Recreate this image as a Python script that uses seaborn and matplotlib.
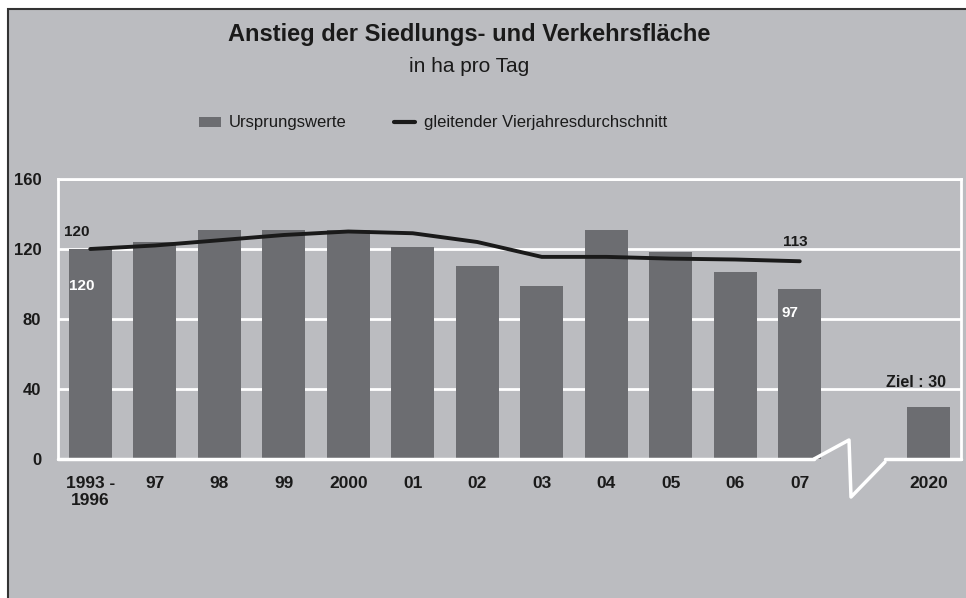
import numpy as np
import pandas as pd
import matplotlib
matplotlib.use("Agg")
import matplotlib.pyplot as plt
import seaborn as sns
from matplotlib.patches import Rectangle
from matplotlib.lines import Line2D
from matplotlib.patches import Patch

# ---- data ----
categories = ["1993 -\n1996", "97", "98", "99", "2000", "01", "02", "03",
              "04", "05", "06", "07", "2020"]
gap_label = " "
order = categories[:12] + [gap_label] + categories[12:]
values = [120, 124, 131, 131, 131, 121, 110, 99, 131, 118, 107, 97, 30]
moving_avg = [120, 122, 125, 128, 130, 129, 124, 115.5, 115.5, 114.5, 114, 113]
title = "Anstieg der Siedlungs- und Verkehrsfläche"
subtitle = "in ha pro Tag"
legend_labels = ["Ursprungswerte", "gleitender Vierjahresdurchschnitt"]
yticks = [0, 40, 80, 120, 160]

BG = "#bbbcc0"
BAR = "#6c6d71"
LINE = "#1a1a1a"

sns.set_style("white")
plt.rcParams["font.family"] = ["Liberation Sans", "DejaVu Sans"]

fig = plt.figure(figsize=(9.66, 5.98), dpi=100)
fig.patch.set_facecolor("white")
# framed gray panel
fig.patches.append(Rectangle((8 / 966, -0.05), 1.1, 1 - 9 / 598 + 0.05,
                             transform=fig.transFigure, facecolor=BG,
                             edgecolor="#333333", linewidth=1.5, zorder=-10))

ax = fig.add_axes([58 / 966, 139 / 598, 903 / 966, 280 / 598])
ax.set_facecolor(BG)

df = pd.DataFrame({"cat": categories, "val": values})
sns.barplot(data=df, x="cat", y="val", order=order, color=BAR, width=0.67,
            saturation=1, ax=ax, zorder=3, edgecolor="none", linewidth=0)
ax.plot(np.arange(len(moving_avg)), moving_avg, color=LINE, lw=2.8,
        solid_capstyle="round", zorder=4)

ax.set_xlim(-0.5, len(order) - 0.5)
ax.set_ylim(0, 160)
ax.set_yticks(yticks)
ax.set_xlabel("")
ax.set_ylabel("")
for y in yticks[1:]:
    ax.axhline(y, color="white", lw=2, zorder=1)

for s in ["left", "right", "top"]:
    ax.spines[s].set_color("white")
    ax.spines[s].set_linewidth(2)
ax.spines["bottom"].set_visible(False)

# broken baseline
ax.axhline(0, xmin=0, xmax=(814 - 58) / 903, color="white", lw=2.5, zorder=5, clip_on=False)
ax.axhline(0, xmin=(885 - 58) / 903, xmax=1, color="white", lw=2.5, zorder=5, clip_on=False)
zx = np.array([814, 849, 851, 885])
zy = np.array([459, 440, 497, 462])
ax.plot(-0.5 + (zx - 58) / 903 * len(order), (459 - zy) / 280 * 160,
        color="white", lw=2.5, clip_on=False, zorder=5)

ax.tick_params(axis="x", which="major", length=0, pad=12, labelsize=12.5)
ax.tick_params(axis="y", which="major", length=4, width=1.5, color="white",
               pad=8, labelsize=12)
minor = [i - 0.5 for i in range(len(order) + 1) if i not in (12,)]
ax.set_xticks(minor, minor=True)
ax.tick_params(axis="x", which="minor", length=4, width=1.5, color="white")
for lbl in ax.get_xticklabels() + ax.get_yticklabels():
    lbl.set_fontweight("bold")
    lbl.set_color("#1a1a1a")

# annotations
ax.annotate(str(values[0]), (0, moving_avg[0]), xytext=(-10, 7),
            textcoords="offset points", fontsize=11, fontweight="bold",
            color="#1a1a1a", ha="center", va="bottom")
ax.annotate(str(values[0]), (0, values[0]), xytext=(-6, -27),
            textcoords="offset points", fontsize=11, fontweight="bold",
            color="white", ha="center", va="center")
ax.annotate(str(moving_avg[-1]), (11, moving_avg[-1]), xytext=(-3, 9),
            textcoords="offset points", fontsize=11, fontweight="bold",
            color="#1a1a1a", ha="center", va="bottom")
ax.annotate(str(values[11]), (11, values[11]), xytext=(-7, -17),
            textcoords="offset points", fontsize=11, fontweight="bold",
            color="white", ha="center", va="center")
ax.annotate("Ziel : " + str(values[12]), (13, values[12]), xytext=(-9, 12),
            textcoords="offset points", fontsize=11.5, fontweight="bold",
            color="#1a1a1a", ha="center", va="bottom")

fig.text(469 / 966, 1 - 41 / 598, title, ha="center", va="baseline",
         fontsize=17, fontweight="bold", color="#1a1a1a")
fig.text(469 / 966, 1 - 72 / 598, subtitle, ha="center", va="baseline",
         fontsize=15, color="#1a1a1a")

handles = [Patch(facecolor=BAR, edgecolor="none"),
           Line2D([0], [0], color=LINE, lw=3)]
leg = fig.legend(handles, legend_labels, loc="center", ncol=2,
                 bbox_to_anchor=(433 / 966, 1 - 123 / 598), frameon=False,
                 fontsize=12, handlelength=1.3, handletextpad=0.5,
                 columnspacing=2.8, handleheight=0.55)
for t in leg.get_texts():
    t.set_color("#1a1a1a")

fig.savefig("out.png", dpi=100, facecolor=fig.get_facecolor())
